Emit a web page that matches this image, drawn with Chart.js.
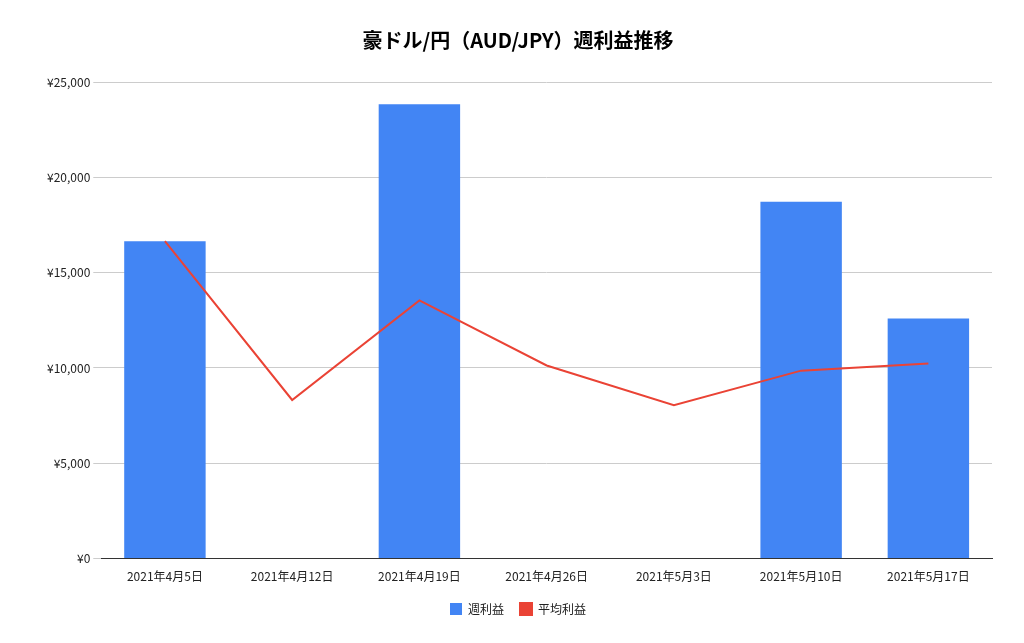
<!DOCTYPE html>
<html><head><meta charset="utf-8">
<script src="https://cdn.jsdelivr.net/npm/chart.js@4"></script>
<style>body{margin:0;background:#fff}#wrap{width:1024px;height:643px}</style>
</head><body><div id="wrap"><canvas id="c"></canvas></div>
<script>
const labels = ['2021年4月5日','2021年4月12日','2021年4月19日','2021年4月26日','2021年5月3日','2021年5月10日','2021年5月17日'];
const weekly = [16650, null, 23830, null, null, 18720, 12600];
const average = [16650, 8320, 13540, 10130, 8050, 9860, 10230];

Chart.defaults.font.family = '"Noto Sans CJK JP", "Noto Sans", sans-serif';
Chart.defaults.color = '#222';
new Chart(document.getElementById('c'), {
  type: 'bar',
  data: {
    labels: labels,
    datasets: [
      { type: 'line', label: '平均利益', data: average, borderColor: '#ea4335', backgroundColor: '#ea4335', borderWidth: 2, pointRadius: 0, tension: 0, order: 0 },
      { label: '週利益', data: weekly, backgroundColor: '#4285f4', categoryPercentage: 0.64, barPercentage: 1, order: 1 }
    ]
  },
  options: {
    responsive: true, maintainAspectRatio: false, animation: false,
    layout: { padding: { left: 44, right: 32, top: 14, bottom: 18 } },
    plugins: {
      title: { display: true, text: '豪ドル/円（AUD/JPY）週利益推移', font: { size: 20, weight: 'bold' }, padding: { top: 14, bottom: 30 }, color: '#000' },
      legend: { position: 'bottom', reverse: true, labels: { boxWidth: 12, boxHeight: 12, font: { size: 12 }, padding: 16 } }
    },
    scales: {
      x: { grid: { display: false }, border: { color: '#333' }, ticks: { font: { size: 12 }, maxRotation: 0 } },
      y: { min: 0, max: 25000, ticks: { stepSize: 5000, font: { size: 12 }, callback: v => '¥' + v.toLocaleString('en-US') }, grid: { color: '#ccc' }, border: { display: false } }
    }
  }
});
</script></body></html>
